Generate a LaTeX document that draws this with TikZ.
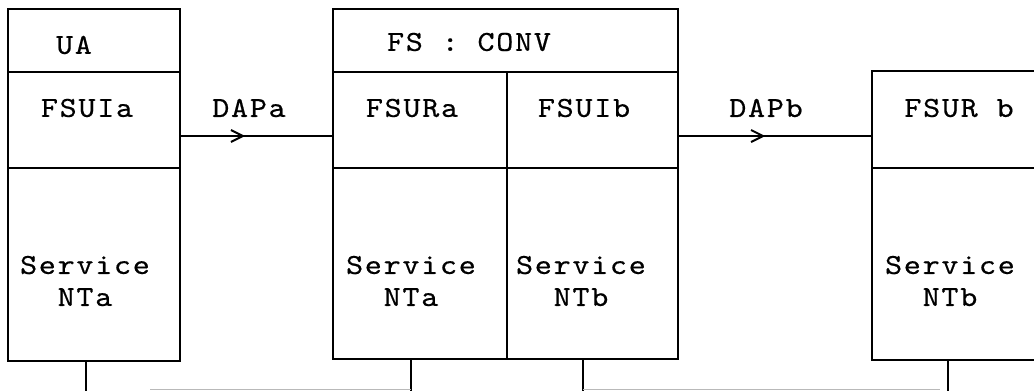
\documentclass[tikz,border=0pt]{standalone}
\usepackage{fontspec}
\usetikzlibrary{decorations.markings}
\newfontfamily\typew{lmmono10-regular.otf}[FakeStretch=1.12,LetterSpace=6,FakeBold=0.5]
\newcommand{\typeface}{\typew\fontsize{29}{32}\selectfont}
\begin{document}
\begin{tikzpicture}[x=1pt,y=-1pt,
  frame/.style={line width=2.2pt},
  lbl/.style={font=\typeface, inner sep=0pt, align=center},
  link/.style={line width=2pt, postaction={decorate},
    decoration={markings, mark=at position #1 with {\draw[line width=2pt] (-11pt,-6pt) -- (1pt,0pt) -- (-11pt,6pt);}}},
  bus/.style={line width=2.2pt},
  faint/.style={line width=1.4pt, gray!55}
]
\useasboundingbox (0,0) rectangle (1034,391);
\begin{scope}
\clip (0,0) rectangle (1034,391);
% box 1
\draw[frame] (8,9) rectangle (180,361);
\draw[frame] (8,72) -- (180,72);
\draw[frame] (8,168) -- (180,168);
% box 2
\draw[frame] (333,9) rectangle (678,359);
\draw[frame] (333,72) -- (678,72);
\draw[frame] (333,168) -- (678,168);
\draw[frame] (507,72) -- (507,359);
% box 3
\draw[frame] (872,71) rectangle (1050,360);
\draw[frame] (872,168) -- (1050,168);

% labels
\node[lbl] (ua) at (74,45) {UA};
\node[lbl] (fsuia) at (87,108) {FSUIa};
\node[lbl] (sa1) at (85,281) {Service\\NTa};
\node[lbl] (dapa) at (249,108) {DAPa};
\node[lbl] (conv) at (469,42) {FS : CONV};
\node[lbl] (fsura) at (412,108) {FSURa};
\node[lbl] (fsuib) at (584,108) {FSUIb};
\node[lbl] (sa2) at (411,281) {Service\\NTa};
\node[lbl] (sb2) at (581,281) {Service\\NTb};
\node[lbl] (dapb) at (766,108) {DAPb};
\node[lbl] (fsurb) at (959,108) {FSUR b};
\node[lbl] (sb3) at (950,281) {Service\\NTb};

% connectors
\coordinate (a1) at (180,136); \coordinate (a2) at (333,136);
\coordinate (b1) at (678,136); \coordinate (b2) at (872,136);
\draw[link=0.405] (a1) -- (a2);
\draw[link=0.433] (b1) -- (b2);

% drops to the bottom
\coordinate (d1) at (86,361);  \coordinate (e1) at (86,391);
\coordinate (d2) at (411,359); \coordinate (e2) at (411,391);
\coordinate (d3) at (583,359); \coordinate (e3) at (583,391);
\coordinate (d4) at (948,360); \coordinate (e4) at (948,391);
\draw[bus] (d1) -- (e1);
\draw[bus] (d2) -- (e2);
\draw[bus] (d3) -- (e3);
\draw[bus] (d4) -- (e4);
\coordinate (g1) at (150,389.5); \coordinate (g2) at (411,389.5);
\coordinate (g3) at (583,389.5); \coordinate (g4) at (940,389.5);
\draw[faint] (g1) -- (g2);
\draw[faint] (g3) -- (g4);
\end{scope}
\end{tikzpicture}
\end{document}
